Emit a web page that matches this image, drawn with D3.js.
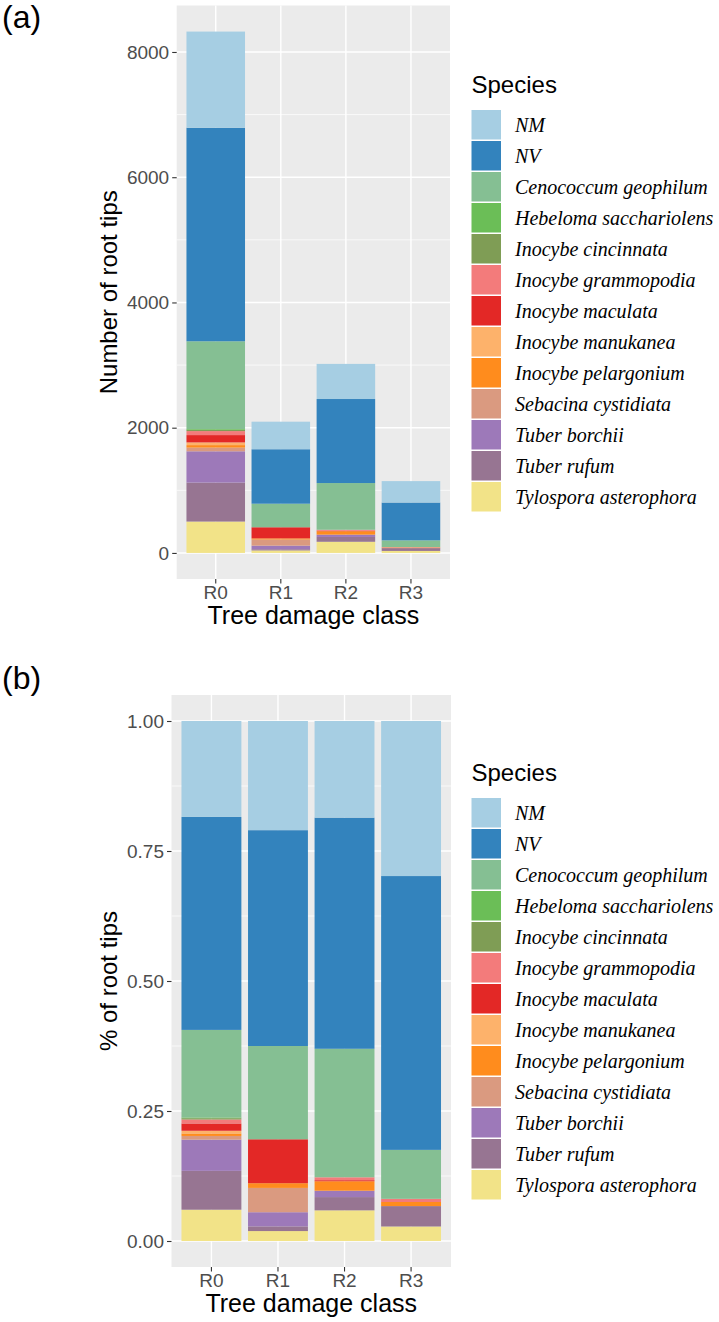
<!DOCTYPE html>
<html>
<head>
<meta charset="utf-8">
<script src="https://cdn.jsdelivr.net/npm/d3@7"></script>
<style>
  html, body { margin: 0; padding: 0; background: #ffffff; }
  svg { display: block; }
</style>
</head>
<body>
<svg id="chart" width="719" height="1322"></svg>
<script>
// ---------------- DATA ----------------
const classes = ["R0", "R1", "R2", "R3"];
const species = [
  "NM", "NV", "Cenococcum geophilum", "Hebeloma sacchariolens", "Inocybe cincinnata",
  "Inocybe grammopodia", "Inocybe maculata", "Inocybe manukanea", "Inocybe pelargonium",
  "Sebacina cystidiata", "Tuber borchii", "Tuber rufum", "Tylospora asterophora"
];
const speciesColors = [
  "#A6CEE3", "#3383BD", "#85BF93", "#6BBE57", "#7F9D55",
  "#F37B7B", "#E32826", "#FDB26B", "#FF8C1D",
  "#DA9A80", "#9D79B9", "#977592", "#F2E388"
];
// counts per species for R0, R1, R2, R3
const NM                    = [1536, 440, 561, 342];
const NV                    = [3410, 870, 1342, 604];
const cenococcumGeophilum   = [1402, 376, 746, 108];
const hebelomaSacchariolens = [12, 0, 0, 0];
const inocybeCincinnata     = [20, 0, 0, 0];
const inocybeGrammopodia    = [64, 0, 17, 7];
const inocybeMaculata       = [117, 177, 6, 0];
const inocybeManukanea      = [43, 0, 0, 0];
const inocybePelargonium    = [40, 19, 55, 9];
const sebacinaCystidiata    = [59, 98, 0, 0];
const tuberBorchii          = [500, 57, 37, 0];
const tuberRufum            = [622, 19, 77, 45];
const tylosporaAsterophora  = [501, 40, 178, 32];

const countTicks = [0, 2000, 4000, 6000, 8000];
const countMinor = [1000, 3000, 5000, 7000];
const propTicks = [0, 0.25, 0.5, 0.75, 1];
const propMinor = [0.125, 0.375, 0.625, 0.875];

const seriesArrays = [NM, NV, cenococcumGeophilum, hebelomaSacchariolens, inocybeCincinnata,
  inocybeGrammopodia, inocybeMaculata, inocybeManukanea, inocybePelargonium,
  sebacinaCystidiata, tuberBorchii, tuberRufum, tylosporaAsterophora];

// build table
const table = classes.map((c, i) => {
  const row = { cls: c };
  species.forEach((s, j) => { row[s] = seriesArrays[j][i]; });
  row.total = d3.sum(species, s => row[s]);
  return row;
});
const propTable = table.map(r => {
  const row = { cls: r.cls };
  species.forEach(s => { row[s] = r[s] / r.total; });
  return row;
});

const SANS = '"Liberation Sans", Arial, sans-serif';
const SERIF = '"Liberation Serif", "Times New Roman", serif';

const color = d3.scaleOrdinal().domain(species).range(speciesColors);
// ggplot stacks first level on top -> stack keys reversed
const stackKeys = species.slice().reverse();

const svg = d3.select("#chart");
svg.append("rect").attr("width", 719).attr("height", 1322).attr("fill", "#fff");

function drawPanel(opts) {
  const { data, left, right, top, bottom, maxVal, ticks, minor, fmt, yTitle, tag, tagY, legendTop } = opts;
  const g = svg.append("g");
  const x = d3.scaleBand().domain(classes).range([left, right]).paddingInner(0.1).paddingOuter(0.15);
  const y = d3.scaleLinear().domain([-0.05 * maxVal, 1.05 * maxVal]).range([bottom, top]);

  // panel background
  g.append("rect").attr("x", left).attr("y", top).attr("width", right - left).attr("height", bottom - top)
    .attr("fill", "#EBEBEB");
  // minor grid
  g.selectAll(".minor").data(minor).join("line")
    .attr("x1", left).attr("x2", right).attr("y1", d => y(d)).attr("y2", d => y(d))
    .attr("stroke", "#fff").attr("stroke-width", 0.7);
  // major grid
  g.selectAll(".majory").data(ticks).join("line")
    .attr("x1", left).attr("x2", right).attr("y1", d => y(d)).attr("y2", d => y(d))
    .attr("stroke", "#fff").attr("stroke-width", 1.4);
  g.selectAll(".majorx").data(classes).join("line")
    .attr("x1", d => x(d) + x.bandwidth() / 2).attr("x2", d => x(d) + x.bandwidth() / 2)
    .attr("y1", top).attr("y2", bottom)
    .attr("stroke", "#fff").attr("stroke-width", 1.4);

  // stacked bars
  const stacked = d3.stack().keys(stackKeys)(data);
  g.selectAll(".layer").data(stacked).join("g")
    .attr("fill", d => color(d.key))
    .selectAll("rect").data(d => d).join("rect")
    .attr("x", d => x(d.data.cls))
    .attr("width", x.bandwidth())
    .attr("y", d => y(d[1]))
    .attr("height", d => Math.max(0, y(d[0]) - y(d[1])));

  // y axis
  const ya = g.append("g").attr("transform", `translate(${left},0)`)
    .call(d3.axisLeft(y).tickValues(ticks).tickFormat(fmt).tickSize(4.5).tickPadding(3));
  ya.select(".domain").remove();
  ya.selectAll(".tick line").attr("stroke", "#333333").attr("stroke-width", 1.1);
  ya.selectAll(".tick text").attr("fill", "#4D4D4D").style("font-size", "19px")
    .style("font-family", SANS);

  // x axis
  const xa = g.append("g").attr("transform", `translate(0,${bottom})`)
    .call(d3.axisBottom(x).tickSize(4.5).tickPadding(3));
  xa.select(".domain").remove();
  xa.selectAll(".tick line").attr("stroke", "#333333").attr("stroke-width", 1.1);
  xa.selectAll(".tick text").attr("fill", "#4D4D4D").style("font-size", "19px")
    .style("font-family", SANS).attr("dy", null)
    .attr("y", 20);

  // axis titles
  g.append("text").attr("x", (left + right) / 2).attr("y", bottom + 45)
    .attr("text-anchor", "middle").style("font-size", "25px").style("font-family", SANS).attr("fill", "#000")
    .text("Tree damage class");
  g.append("text").attr("transform", `translate(117,${(top + bottom) / 2}) rotate(-90)`)
    .attr("text-anchor", "middle").style("font-size", "24px").style("font-family", SANS).attr("fill", "#000")
    .text(yTitle);

  // tag
  svg.append("text").attr("x", 2).attr("y", tagY).style("font-size", "32px").style("font-family", SANS)
    .attr("fill", "#000").text(tag);

  // legend
  const lg = svg.append("g").attr("transform", `translate(471.5,${legendTop})`);
  lg.append("text").attr("x", 0).attr("y", -17).style("font-size", "24px").style("font-family", SANS)
    .attr("fill", "#000").text("Species");
  const items = lg.selectAll(".item").data(species).join("g")
    .attr("transform", (d, i) => `translate(0,${i * 31})`);
  items.append("rect").attr("width", 29.5).attr("height", 29.5).attr("fill", d => color(d));
  items.append("text").attr("x", 43.5).attr("y", 21.5)
    .style("font-family", SERIF)
    .style("font-style", "italic").style("font-size", "20px").attr("fill", "#000")
    .text(d => d);
}

drawPanel({
  data: table, left: 176.7, right: 450, top: 5.5, bottom: 579,
  maxVal: d3.max(table, d => d.total), ticks: countTicks, minor: countMinor,
  fmt: d3.format("d"), yTitle: "Number of root tips", tag: "(a)", tagY: 28, legendTop: 110
});
drawPanel({
  data: propTable, left: 171.5, right: 451, top: 695, bottom: 1267,
  maxVal: 1, ticks: propTicks, minor: propMinor,
  fmt: d3.format(".2f"), yTitle: "% of root tips", tag: "(b)", tagY: 689, legendTop: 798
});
</script>
</body>
</html>
